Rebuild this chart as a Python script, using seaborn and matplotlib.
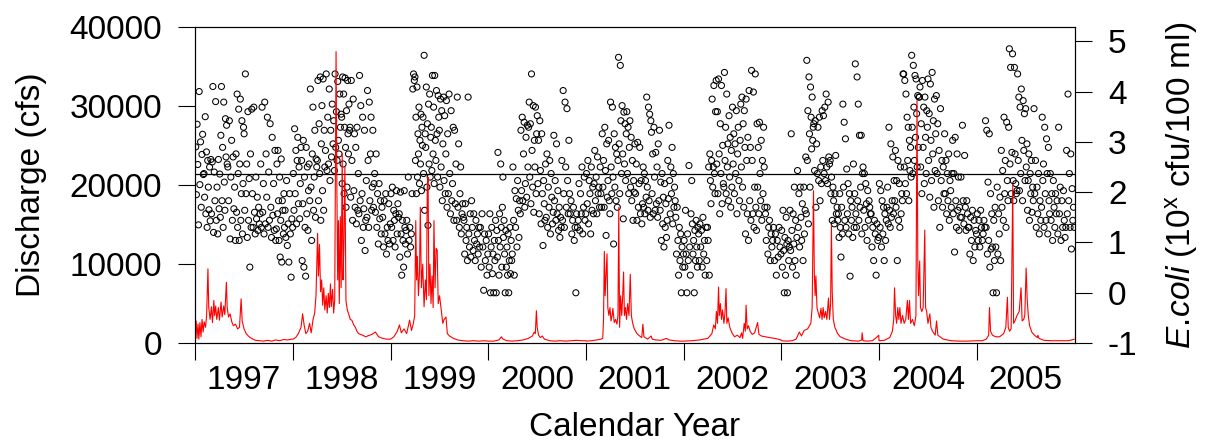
import numpy as np
import pandas as pd
import matplotlib
matplotlib.use("Agg")
import matplotlib.pyplot as plt
import seaborn as sns

# ---------------------------------------------------------------------------
# River discharge, read as (day of year, cfs) pairs
# ---------------------------------------------------------------------------
flow_1997 = [(0, 1500), (3, 2800), (6, 600), (10, 2400), (13, 500), (17, 2600), (21, 800),
             (25, 3000), (29, 1400), (33, 2700), (38, 2000), (42, 3500), (47, 9400), (50, 4500),
             (55, 3000), (60, 4600), (64, 2600), (69, 5400), (72, 3500), (76, 4700), (80, 3000),
             (86, 4500), (90, 2900), (96, 5200), (100, 3300), (106, 4700), (110, 3600),
             (116, 7700), (119, 4500), (124, 3300), (130, 3700), (136, 2700), (142, 2200),
             (150, 2400), (158, 1800), (165, 2000), (171, 5600), (175, 2800), (182, 1800),
             (190, 1200), (198, 900), (205, 700), (215, 500), (225, 350), (240, 300), (255, 250),
             (270, 350), (285, 250), (300, 400), (315, 300), (330, 450), (345, 400), (360, 500)]
flow_1998 = [(0, 500), (10, 700), (20, 1200), (30, 2000), (36, 3700), (42, 2200), (48, 1200),
             (55, 1500), (62, 2500), (68, 1300), (75, 3000), (81, 3800), (86, 6000), (92, 13900),
             (95, 8500), (99, 12500), (103, 6500), (107, 8000), (111, 4800), (115, 7000),
             (119, 4200), (124, 6000), (128, 3800), (132, 6300), (136, 4500), (140, 7500),
             (143, 4600), (148, 6800), (152, 3800), (156, 5500), (161, 36900), (164, 20000),
             (167, 8000), (170, 15500), (173, 5000), (177, 16000), (180, 7000), (184, 24000),
             (187, 8000), (190, 12000), (194, 22300), (198, 5400), (203, 4200), (208, 3700),
             (214, 3000), (220, 2900), (227, 2300), (233, 2000), (239, 1500), (245, 1200),
             (260, 1000), (272, 800), (283, 960), (295, 1100), (308, 1400), (320, 800),
             (335, 600), (350, 500), (362, 500)]
flow_1999 = [(0, 500), (12, 800), (25, 1500), (33, 2300), (40, 1300), (50, 1800), (60, 1200),
             (71, 2900), (78, 1600), (85, 2500), (90, 3500), (94, 15500), (97, 8000),
             (100, 11000), (104, 6000), (108, 9000), (111, 17200), (115, 7000), (120, 10000),
             (125, 4600), (130, 8000), (134, 5500), (137, 19700), (140, 21000), (143, 6000),
             (147, 10000), (151, 5000), (155, 8500), (159, 4500), (162, 15500), (166, 7000),
             (170, 12000), (174, 11800), (178, 5000), (183, 6000), (188, 4500), (195, 2500),
             (200, 3000), (207, 3300), (212, 1200), (220, 900), (235, 600), (250, 400),
             (270, 300), (290, 250), (310, 300), (330, 250), (350, 300), (364, 250)]
flow_2000 = [(0, 250), (20, 250), (40, 400), (49, 800), (55, 500), (70, 300), (90, 250),
             (110, 300), (130, 400), (150, 600), (165, 900), (172, 1400), (176, 1200),
             (180, 4100), (183, 2000), (188, 1000), (195, 700), (202, 900), (210, 500),
             (230, 300), (250, 250), (270, 300), (290, 250), (310, 300), (330, 350),
             (350, 300), (365, 300)]
flow_2001 = [(0, 250), (20, 300), (40, 400), (55, 500), (62, 600), (65, 3000), (68, 11600),
             (71, 6000), (75, 9000), (78, 11300), (81, 4500), (85, 3500), (89, 4500), (93, 2800),
             (97, 3500), (100, 4400), (105, 2600), (110, 3000), (115, 2400), (119, 3500),
             (122, 17200), (125, 2000), (129, 6000), (133, 3500), (136, 5500), (140, 9000),
             (143, 3500), (147, 4500), (151, 3000), (155, 5000), (160, 3500), (165, 8700),
             (169, 3500), (174, 2500), (180, 1800), (190, 1200), (200, 900), (208, 700),
             (212, 2400), (216, 800), (230, 500), (243, 900), (247, 500), (260, 400), (280, 350),
             (300, 600), (310, 400), (330, 300), (350, 250), (364, 250)]
flow_2002 = [(0, 250), (30, 300), (60, 400), (90, 600), (105, 1200), (112, 2300), (118, 1800),
             (122, 4000), (126, 2500), (130, 7100), (133, 3500), (137, 5000), (141, 3000),
             (145, 4200), (150, 2500), (154, 3800), (158, 6900), (161, 2500), (166, 3200),
             (172, 2000), (180, 1300), (190, 800), (200, 1000), (210, 700), (216, 1300),
             (220, 600), (226, 2500), (230, 1500), (233, 4800), (237, 1800), (242, 2200),
             (248, 1500), (256, 1100), (265, 1300), (276, 2600), (281, 1100), (290, 900),
             (305, 800), (320, 700), (340, 600), (364, 400)]
flow_2003 = [(0, 300), (20, 250), (40, 300), (55, 500), (67, 1400), (75, 900), (85, 1600),
             (98, 1800), (110, 2500), (115, 4500), (120, 19300), (123, 9000), (126, 6000),
             (129, 8500), (133, 4500), (138, 3800), (143, 3200), (148, 4400), (152, 3000),
             (156, 4500), (160, 3200), (165, 4000), (170, 3000), (176, 5700), (180, 3000),
             (184, 5000), (187, 14900), (190, 6500), (194, 3000), (200, 2000), (210, 1200),
             (220, 800), (240, 500), (260, 300), (290, 250), (300, 400), (302, 1300),
             (305, 300), (320, 250), (340, 300), (355, 700), (364, 1000)]
flow_2004 = [(0, 300), (20, 350), (40, 700), (50, 1500), (55, 3000), (58, 7000), (62, 3500),
             (66, 2500), (70, 4500), (74, 3000), (78, 4500), (82, 2500), (88, 3500), (94, 2500),
             (100, 3000), (106, 5400), (110, 3000), (114, 5400), (118, 2500), (125, 3000),
             (132, 2200), (138, 3500), (142, 30700), (145, 10400), (148, 6000), (152, 10400),
             (155, 4500), (160, 4000), (165, 4500), (171, 14300), (174, 4500), (178, 4000),
             (183, 2500), (190, 3700), (194, 2000), (200, 1500), (210, 1000), (215, 2800),
             (220, 1000), (240, 500), (270, 300), (300, 250), (330, 250), (365, 300)]
flow_2005 = [(0, 300), (20, 300), (35, 500), (44, 1000), (47, 4500), (51, 1500), (58, 1000),
             (70, 800), (85, 800), (100, 1200), (108, 2000), (114, 5800), (117, 2000),
             (122, 1500), (128, 1800), (134, 20000), (137, 2500), (142, 2800), (150, 3500),
             (158, 4000), (165, 7000), (169, 2800), (175, 3000), (179, 3500), (184, 9500),
             (188, 5500), (192, 3500), (197, 2200), (205, 1400), (215, 1000), (226, 700),
             (228, 1000), (232, 600), (250, 350), (280, 300), (310, 300), (340, 300),
             (355, 400), (364, 500)]

# ---------------------------------------------------------------------------
# E. coli samples, log10(cfu/100 ml), grouped by calendar month (Jan..Dec)
# ---------------------------------------------------------------------------
ecoli_1997 = [
    [2.9, 1.95, 3.35, 2.55, 1.35, 4.0, 2.15, 3.0, 1.7, 2.75, 3.15, 2.35],
    [2.37, 1.9, 3.5, 1.57, 2.8, 1.3, 2.63, 2.1, 1.65, 2.5, 1.43, 2.65],
    [1.57, 2.6, 4.1, 1.2, 2.4, 1.83, 3.8, 1.44, 2.1, 1.17, 2.65, 1.67],
    [2.36, 1.5, 3.13, 4.1, 1.83, 2.89, 1.3, 3.79, 2.2, 1.64, 3.46, 2.7, 3.33, 2.56],
    [2.5, 1.83, 3.42, 1.07, 2.3, 3.03, 1.44, 2.7, 1.67, 2.1, 1.04],
    [2.76, 1.6, 3.95, 1.3, 2.37, 3.65, 1.04, 2.56, 3.85, 1.44, 1.97, 3.42, 1.17, 2.17, 3.29],
    [3.16, 1.64, 4.35, 1.97, 2.56, 1.1, 3.6, 1.44, 2.27, 0.51, 2.76, 1.3, 3.65],
    [1.97, 1.3, 3.69, 1.6, 1.17, 2.3, 1.47, 1.9, 1.24, 1.7, 1.37, 1.57],
    [2.56, 1.3, 3.69, 1.6, 2.17, 1.17, 3.79, 1.37, 2.76, 1.9, 3.49, 1.3],
    [2.4, 1.44, 3.36, 1.7, 1.1, 3.09, 1.54, 2.17, 1.24, 2.83, 1.04, 1.27],
    [2.56, 1.57, 2.83, 1.83, 1.04, 2.3, 0.71, 1.44, 2.66, 0.61, 1.83, 1.64, 1.17, 1.97, 1.3],
    [1.64, 1.1, 2.23, 0.94, 1.37, 0.61, 1.97, 1.17, 0.31, 1.47, 1.3],
]
ecoli_1998 = [
    [2.37, 1.64, 3.26, 1.97, 2.83, 1.37, 2.63, 3.09, 1.77, 2.5, 1.47, 2.17, 2.89],
    [2.63, 0.64, 1.77, 3.03, 0.51, 2.3, 1.3, 0.33, 2.89, 1.57, 2.5, 1.24, 2.03],
    [2.56, 1.83, 4.05, 2.1, 1.04, 2.76, 3.69, 1.64, 2.3, 3.23, 1.5, 2.66, 2.5],
    [2.63, 4.22, 1.83, 3.36, 2.37, 4.29, 1.44, 2.96, 3.72, 2.03, 4.25, 1.64, 3.23, 2.5],
    [2.83, 4.35, 2.43, 3.49, 2.56, 4.05, 2.23, 3.23, 2.7, 3.75, 2.96],
    [3.42, 2.43, 4.35, 2.89, 3.6, 2.63, 4.2, 3.03, 2.76, 3.95, 3.29, 3.55],
    [3.49, 2.17, 4.29, 2.56, 3.95, 1.97, 3.29, 4.27, 2.89, 1.7, 3.62, 2.1, 4.22, 3.16, 2.76, 3.75, 3.23],
    [3.29, 1.9, 4.22, 2.63, 1.44, 3.85, 2.03, 3.16, 1.7, 2.89, 1.37, 3.29, 1.64],
    [2.37, 1.57, 4.32, 1.83, 3.72, 1.04, 1.97, 3.49, 1.3, 1.67, 3.23, 0.84, 1.44],
    [2.23, 1.5, 4.02, 2.63, 1.3, 3.79, 1.83, 2.76, 3.49, 1.64, 2.1, 3.23, 1.7, 2.17],
    [2.37, 1.6, 2.76, 1.3, 1.97, 0.97, 2.17, 1.47, 1.83, 1.17, 1.7],
    [1.5, 0.91, 1.83, 1.17, 1.97, 0.77, 1.3, 1.04, 1.77, 0.97, 1.37],
]
ecoli_1999 = [
    [1.97, 1.3, 2.1, 1.04, 1.64, 1.44, 0.91, 1.57, 2.03, 1.17, 1.77, 1.5],
    [1.57, 0.71, 2.0, 1.17, 0.35, 1.44, 1.04, 0.51, 2.03, 1.3, 0.97, 1.24],
    [1.44, 0.77, 2.3, 1.04, 1.3, 0.91, 1.17, 1.97, 4.05, 4.35, 4.22],
    [4.29, 2.63, 3.49, 1.97, 4.09, 2.3, 3.16, 2.76, 3.69, 2.17, 3.03, 2.56, 3.55, 2.03, 3.29, 2.93],
    [3.49, 2.37, 4.72, 1.64, 3.16, 2.89, 4.09, 2.1, 3.36, 1.34, 3.75, 2.56, 3.95, 2.3, 3.09],
    [3.29, 2.43, 4.32, 2.76, 3.69, 2.17, 4.32, 3.03, 2.63, 4.02, 3.16, 2.3, 3.92, 3.49],
    [3.23, 2.1, 3.85, 2.5, 3.62, 1.83, 2.96, 3.89, 2.23, 3.52, 1.97, 2.76, 3.82, 1.7],
    [3.16, 1.97, 3.95, 2.37, 1.57, 3.62, 1.83, 2.17, 3.29, 1.44, 3.23, 1.77],
    [2.56, 1.44, 3.89, 1.7, 2.96, 1.3, 1.97, 2.5, 1.17, 1.57, 1.77, 1.5],
    [1.44, 0.77, 1.77, 1.04, 1.3, 0.64, 3.89, 1.17, 0.91, 1.57, 0.71, 1.83],
    [1.3, 0.84, 1.57, 1.04, 0.64, 1.44, 0.97, 1.17, 0.77, 1.3, 0.91],
    [1.3, 0.51, 1.57, 0.91, 0.05, 1.17, 0.64, 1.04, 0.35, 0.77],
]
ecoli_2000 = [
    [1.17, 0.51, 1.57, 0.0, 0.91, 1.3, 0.38, 0.77, 0.0, 1.04, 0.64, 1.44, 0.0],
    [1.24, 0.71, 2.79, 1.04, 0.35, 1.57, 0.91, 2.56, 1.3, 0.51, 1.7, 2.3, 1.1, 1.44],
    [0.77, 0.0, 1.24, 0.51, 0.91, 0.35, 1.17, 0.0, 0.64, 1.3, 0.38, 1.04, 0.64, 0.77],
    [2.5, 1.44, 0.35, 2.03, 1.3, 1.87, 0.91, 2.23, 1.64, 1.1, 1.83, 1.57],
    [3.23, 2.03, 3.49, 1.83, 2.76, 3.39, 1.7, 2.17, 3.09, 1.9, 3.33, 2.5, 3.29],
    [3.79, 2.3, 3.36, 1.77, 4.35, 2.83, 2.1, 3.72, 1.6, 3.03, 2.5, 3.69, 1.97, 3.16],
    [3.52, 2.17, 3.03, 1.57, 3.42, 2.43, 1.37, 3.16, 1.97, 0.94, 2.23, 1.77, 1.44],
    [2.56, 1.5, 2.76, 1.3, 2.1, 1.7, 2.63, 1.17, 2.37, 1.9, 1.37, 1.6],
    [3.13, 1.83, 2.23, 1.44, 2.96, 1.57, 2.03, 1.24, 1.7, 1.1, 1.5, 1.3],
    [2.63, 1.44, 4.02, 1.97, 1.3, 3.79, 2.5, 1.7, 3.66, 2.23, 1.57, 3.03, 1.97],
    [1.57, 1.83, 1.17, 1.44, 1.7, 1.04, 1.3, 0.0, 1.57, 1.3],
    [1.44, 2.17, 1.24, 1.97, 1.57, 2.5, 1.17, 1.7, 2.3, 1.44, 1.57],
]
ecoli_2001 = [
    [2.37, 1.77, 2.63, 1.37, 2.23, 1.97, 1.17, 2.5, 1.64, 2.1, 1.57, 2.17],
    [2.83, 1.83, 2.3, 1.57, 2.7, 1.97, 2.1, 1.7, 2.5, 1.97, 1.7],
    [3.16, 2.1, 2.63, 1.7, 3.29, 2.43, 1.14, 2.96, 1.9, 2.23, 3.03, 1.83, 1.57],
    [3.79, 2.5, 1.97, 3.69, 2.3, 0.97, 3.16, 2.1, 2.89, 1.83, 2.76, 1.7, 2.63],
    [4.68, 2.96, 1.97, 4.52, 3.42, 2.37, 3.72, 2.76, 1.47, 3.59, 2.56, 3.36, 2.23, 3.16],
    [3.6, 2.37, 3.29, 1.97, 2.89, 3.42, 2.1, 3.09, 1.83, 2.63, 1.44, 2.23, 2.0],
    [2.96, 1.97, 2.56, 1.44, 2.99, 1.7, 2.17, 2.89, 1.57, 2.23, 1.37, 1.77],
    [2.5, 1.7, 2.37, 1.57, 2.23, 1.9, 3.89, 2.1, 1.64, 3.69, 1.83, 3.55, 1.5, 3.42],
    [3.19, 1.97, 2.76, 1.57, 3.29, 2.3, 1.64, 2.79, 1.77, 2.5, 1.5, 2.96, 1.83],
    [3.23, 1.64, 2.2, 1.04, 2.37, 1.37, 1.9, 0.91, 2.17, 1.3, 1.77, 1.1, 1.44],
    [2.63, 1.87, 3.33, 2.23, 1.57, 2.5, 1.97, 2.89, 1.37, 2.37, 1.7, 2.1, 1.83],
    [1.5, 0.77, 1.7, 1.04, 0.35, 1.3, 0.64, 1.17, 0.0, 0.91, 0.51, 0.77],
]
ecoli_2002 = [
    [1.04, 0.51, 1.64, 0.77, 0.0, 1.17, 0.64, 2.53, 0.91, 0.35, 1.57, 2.23],
    [1.37, 0.77, 1.04, 0.0, 1.24, 0.64, 1.44, 0.91, 0.51, 1.3, 1.17, 0.64],
    [1.37, 0.91, 1.24, 0.51, 1.5, 0.77, 1.04, 0.35, 1.3, 0.64, 1.3],
    [1.04, 2.5, 0.35, 2.76, 2.23, 1.77, 2.63, 3.85, 2.1, 2.5, 4.12, 2.37, 1.97, 3.6],
    [4.22, 2.56, 3.6, 1.97, 4.25, 2.76, 1.57, 3.36, 2.37, 4.12, 1.77, 2.93, 2.17, 2.1],
    [4.38, 2.63, 3.29, 1.97, 3.95, 2.5, 2.96, 1.83, 3.52, 2.3, 3.09, 1.7, 2.83, 2.1],
    [3.69, 2.56, 3.16, 1.97, 2.96, 2.37, 3.62, 1.57, 2.76, 3.29, 2.23, 1.83, 3.03],
    [3.75, 2.5, 3.89, 2.1, 3.36, 1.7, 3.62, 2.89, 1.17, 3.85, 2.63, 1.57, 3.09, 1.04],
    [4.02, 1.83, 2.89, 1.44, 4.42, 2.63, 1.57, 3.99, 1.3, 2.1, 4.35, 1.7, 1.24],
    [3.36, 2.1, 2.89, 1.57, 3.39, 2.37, 1.83, 3.03, 1.44, 2.63, 1.97, 3.29, 2.5, 1.7],
    [1.57, 1.04, 1.7, 0.77, 1.3, 1.44, 0.64, 1.17, 0.91, 1.04],
    [1.3, 0.64, 1.17, 0.35, 1.04, 0.71, 1.3, 0.91, 0.77],
]
ecoli_2003 = [
    [1.24, 0.51, 1.64, 0.84, 0.0, 1.1, 0.35, 1.5, 0.97, 0.0, 1.04, 0.64, 0.91],
    [1.64, 0.84, 3.16, 1.24, 0.51, 1.57, 0.97, 2.1, 0.64, 1.44, 0.35, 1.1],
    [2.43, 1.3, 1.97, 0.91, 2.1, 1.5, 1.04, 1.77, 0.64, 2.1, 1.17, 1.64],
    [2.7, 1.57, 4.62, 2.63, 3.62, 1.37, 4.29, 3.16, 2.1, 4.09, 3.49, 2.86, 3.89, 3.03, 3.29],
    [3.36, 2.43, 3.42, 1.7, 2.96, 2.37, 3.29, 2.23, 3.49, 1.83, 2.5, 2.17],
    [3.62, 2.63, 3.52, 2.37, 3.69, 2.23, 3.95, 2.5, 2.17, 3.79, 2.7, 2.56],
    [2.63, 1.97, 2.3, 1.44, 2.1, 1.83, 1.37, 1.97, 2.73, 1.57, 1.7, 1.44],
    [1.57, 1.1, 1.97, 1.3, 0.71, 1.7, 1.17, 3.75, 2.1, 3.39, 1.44, 3.06, 1.3],
    [2.46, 1.57, 2.17, 1.17, 1.97, 0.33, 1.83, 1.44, 1.7, 1.1, 2.56, 1.3],
    [1.97, 4.55, 1.57, 1.3, 4.29, 1.83, 3.75, 1.44, 3.13, 1.7, 2.1, 3.13, 1.17, 2.37],
    [2.5, 1.64, 2.37, 1.3, 2.17, 1.77, 1.04, 2.03, 1.44, 1.83, 1.7, 1.57],
    [1.57, 0.91, 1.3, 0.64, 1.44, 1.17, 0.35, 1.37, 1.04, 1.1],
]
ecoli_2004 = [
    [2.17, 1.3, 2.03, 0.91, 1.83, 1.17, 1.7, 0.64, 1.57, 1.04, 1.44, 1.7],
    [2.1, 1.37, 3.29, 1.64, 1.3, 2.96, 1.5, 1.83, 2.7, 1.57, 2.23, 1.83],
    [2.83, 1.7, 2.23, 0.64, 2.63, 1.44, 2.17, 1.3, 2.5, 1.57, 1.97, 1.83, 4.35],
    [4.35, 2.5, 4.22, 2.17, 3.95, 1.97, 3.49, 2.63, 3.29, 1.83, 3.03, 2.43, 2.89, 2.3],
    [4.72, 3.29, 2.37, 4.52, 3.69, 2.63, 4.32, 3.09, 4.25, 3.56, 2.5, 3.92, 2.89, 3.89, 3.89],
    [4.09, 2.5, 3.36, 1.97, 4.22, 2.89, 3.69, 2.17, 3.89, 3.09, 2.37, 3.62, 3.29],
    [4.25, 2.63, 3.56, 1.9, 4.15, 3.03, 2.23, 4.38, 2.76, 3.42, 1.7, 3.85, 2.43, 3.16],
    [3.92, 2.37, 3.36, 1.83, 2.83, 1.3, 3.66, 2.23, 2.63, 1.7, 2.5, 1.97],
    [3.16, 1.97, 2.63, 1.57, 2.37, 1.83, 2.76, 1.44, 2.23, 2.03, 1.7, 2.37],
    [3.03, 1.57, 2.37, 0.81, 3.09, 1.83, 1.3, 2.76, 1.64, 2.3, 1.24, 1.7, 1.5],
    [2.3, 1.5, 3.33, 1.83, 1.37, 2.73, 1.7, 1.24, 1.83, 1.57, 1.3],
    [1.3, 0.77, 1.5, 1.04, 1.64, 0.64, 1.44, 0.91, 1.24, 1.17],
]
ecoli_2005 = [
    [1.57, 1.04, 1.44, 0.91, 1.64, 1.3, 1.04, 1.17, 1.44, 1.3],
    [3.42, 1.3, 3.23, 0.77, 2.2, 1.04, 3.16, 0.51, 1.97, 0.87, 1.57, 0.91],
    [0.0, 1.44, 0.64, 1.7, 0.91, 0.0, 2.1, 0.77, 1.57, 1.17, 1.9, 0.64],
    [2.83, 1.7, 2.43, 1.44, 3.49, 1.97, 2.63, 1.3, 3.39, 2.23, 1.83, 3.29],
    [4.85, 2.56, 4.48, 1.97, 2.79, 4.75, 2.23, 1.83, 4.48, 2.76, 2.17, 1.97, 2.03],
    [4.35, 2.63, 3.89, 2.03, 3.69, 2.37, 4.05, 3.03, 1.83, 3.82, 2.83, 3.56, 2.23],
    [3.66, 2.5, 2.96, 1.64, 2.23, 2.76, 1.44, 2.37, 1.97, 2.63, 1.6, 2.1, 1.83],
    [3.66, 1.97, 2.63, 1.3, 2.1, 1.57, 2.37, 1.17, 1.83, 1.44, 1.7],
    [3.49, 2.23, 2.56, 1.3, 3.29, 1.97, 1.44, 3.06, 2.37, 1.17, 2.89, 1.83, 1.57],
    [2.37, 1.44, 1.97, 1.04, 2.23, 1.7, 1.3, 1.97, 1.57, 1.83, 1.17],
    [3.29, 1.57, 2.1, 1.04, 1.83, 1.3, 2.03, 1.44, 1.1, 1.3],
    [2.83, 1.57, 3.95, 1.83, 2.37, 1.3, 2.76, 0.87, 2.07, 1.44, 1.7, 1.3],
]

years = [1997, 1998, 1999, 2000, 2001, 2002, 2003, 2004, 2005]
flow_by_year = dict(zip(years, [flow_1997, flow_1998, flow_1999, flow_2000, flow_2001,
                                flow_2002, flow_2003, flow_2004, flow_2005]))
ecoli_by_year = dict(zip(years, [ecoli_1997, ecoli_1998, ecoli_1999, ecoli_2000, ecoli_2001,
                                 ecoli_2002, ecoli_2003, ecoli_2004, ecoli_2005]))
ecoli_standard = 2.37  # log10(235 cfu/100 ml) single-sample criterion

# ---------------------------------------------------------------------------
# Tidy tables
# ---------------------------------------------------------------------------
flow_rows = []
for yr, pts in flow_by_year.items():
    jan1 = pd.Timestamp(year=yr, month=1, day=1)
    for doy, q in pts:
        flow_rows.append((jan1 + pd.Timedelta(days=doy), q))
flow = pd.DataFrame(flow_rows, columns=["date", "cfs"])

ecoli_rows = []
for yr, months in ecoli_by_year.items():
    for m, vals in enumerate(months, start=1):
        first = pd.Timestamp(year=yr, month=m, day=1)
        ndays = first.days_in_month
        for i, v in enumerate(vals):
            ecoli_rows.append((first + pd.Timedelta(days=(i + 0.5) * ndays / len(vals)), v))
ecoli = pd.DataFrame(ecoli_rows, columns=["date", "log_ecoli"])

# ---------------------------------------------------------------------------
# Figure
# ---------------------------------------------------------------------------
sns.set_style("ticks")
plt.rcParams["font.family"] = ["Liberation Sans", "DejaVu Sans"]
plt.rcParams["mathtext.fontset"] = "custom"
plt.rcParams["mathtext.rm"] = "Liberation Sans"
plt.rcParams["mathtext.it"] = "Liberation Sans:italic"
plt.rcParams["axes.unicode_minus"] = False
for key in ("text.color", "axes.labelcolor", "xtick.color", "ytick.color", "axes.edgecolor"):
    plt.rcParams[key] = "black"

fig = plt.figure(figsize=(12.06, 4.45), dpi=100)
ax = fig.add_axes([0.162, 0.229, 0.729, 0.710])
ax2 = ax.twinx()

# E. coli on the right-hand scale
sns.scatterplot(data=ecoli, x="date", y="log_ecoli", ax=ax2, marker="o", s=19,
                facecolor="none", edgecolor="black", linewidth=0.75, legend=False)
ax2.axhline(ecoli_standard, color="black", lw=0.9)

# discharge on the left-hand scale, drawn above the samples
sns.lineplot(data=flow, x="date", y="cfs", ax=ax, color="red", lw=0.8, estimator=None)
ax.set_zorder(ax2.get_zorder() + 1)
ax.patch.set_visible(False)

start, end = pd.Timestamp("1997-01-01"), pd.Timestamp("2006-01-01")
ax.set_xlim(start, end)
ax.set_ylim(0, 40000)
ax2.set_ylim(-1, 5.28)

year_starts = [pd.Timestamp(year=y, month=1, day=1) for y in years]
mid_years = [pd.Timestamp(year=y, month=7, day=2) for y in years]
ax.set_xticks(year_starts)
ax.set_xticklabels([])
ax.set_xticks(mid_years, minor=True)
ax.set_xticklabels([str(y) for y in years], minor=True)
ax.tick_params(axis="x", which="major", length=12, width=0.8, color="black")
ax.tick_params(axis="x", which="minor", length=0, pad=16, labelsize=24, labelcolor="black")

ax.set_yticks([0, 10000, 20000, 30000, 40000])
ax.set_yticklabels(["0", "10000", "20000", "30000", "40000"])
ax.tick_params(axis="y", length=12, width=0.8, pad=12, labelsize=24,
               color="black", labelcolor="black")

ax2.set_yticks([-1, 0, 1, 2, 3, 4, 5])
ax2.set_yticklabels(["-1", "0", "1", "2", "3", "4", "5"])
ax2.tick_params(axis="y", length=12, width=0.8, pad=12, labelsize=24,
                color="black", labelcolor="black")

for a in (ax, ax2):
    for sp in a.spines.values():
        sp.set_visible(True)
        sp.set_color("black")
        sp.set_linewidth(0.8)

ax.set_xlabel("Calendar Year", fontsize=24, labelpad=11, color="black")
ax.set_ylabel("Discharge (cfs)", fontsize=24, labelpad=16, color="black")
ax2.set_ylabel(r"$\mathit{E.\!coli}$ (10$^{\mathrm{x}}$ cfu/100 ml)", fontsize=24,
               labelpad=18, color="black")

fig.savefig("out.png", dpi=100)
